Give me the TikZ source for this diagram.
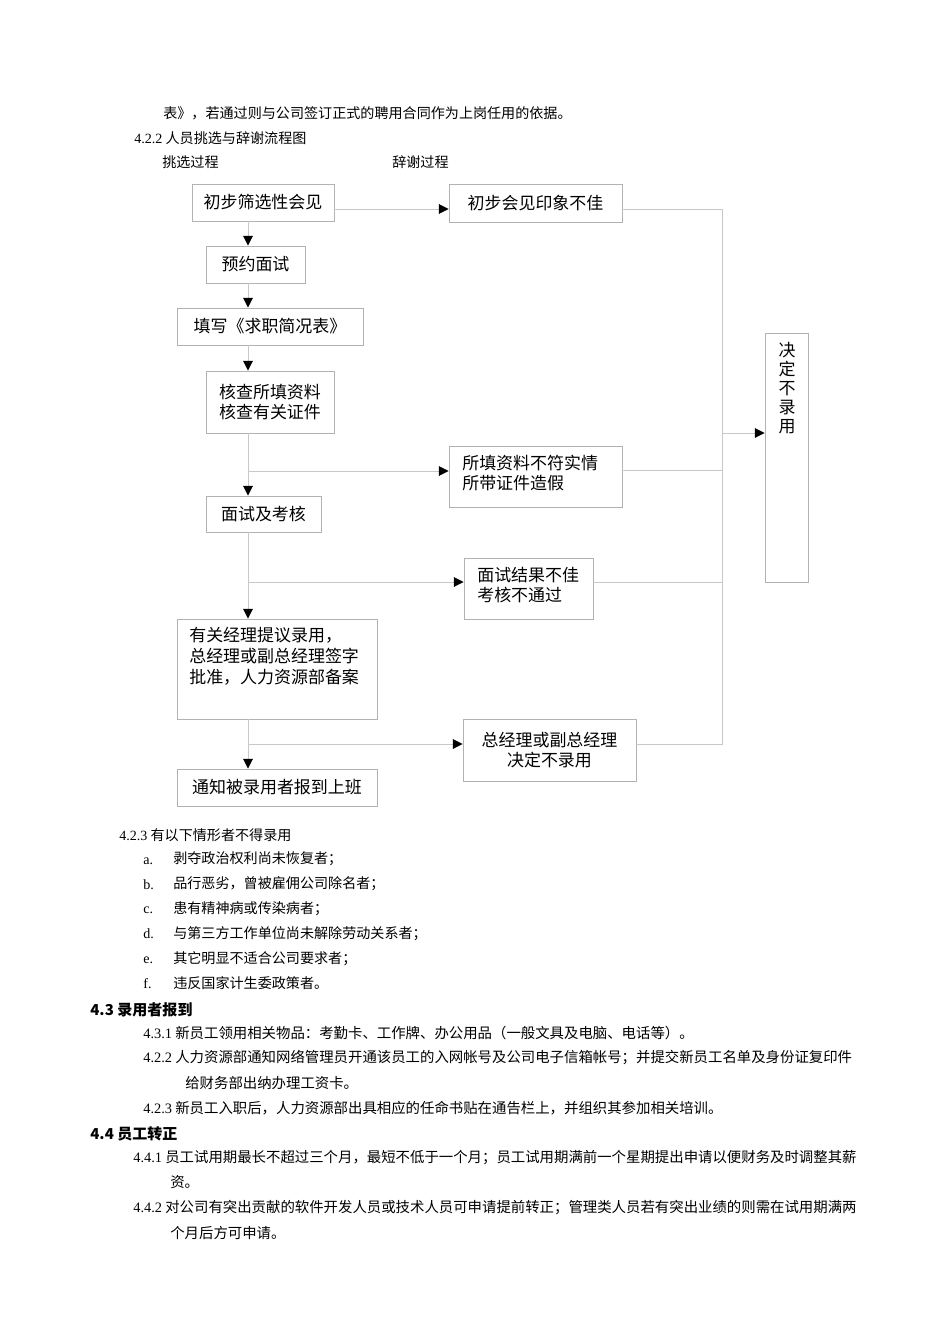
\documentclass[tikz,border=0pt]{standalone}
\usepackage{fontspec}
\newfontfamily\cjk{Noto Sans CJK SC}
\newfontfamily\lat{Liberation Serif}
\usetikzlibrary{arrows.meta}
\definecolor{linegray}{RGB}{200,200,200}
\definecolor{boxgray}{RGB}{178,178,178}

\begin{document}
\begin{tikzpicture}[x=0.625pt,y=-0.625pt,
  box/.style 2 args={draw=boxgray, line width=0.6pt, inner sep=0pt, minimum width=#1*0.625pt, minimum height=#2*0.625pt, align=center, font=\fontsize{10.6}{12.2}\selectfont\cjk},
  boxtext/.style={inner sep=0pt, anchor=north west, align=left, font=\fontsize{10.6}{12.2}\selectfont\cjk},
  line/.style={draw=linegray, line width=0.6pt},
  arr/.style={line, -{Triangle[length=6pt,width=6pt,color=black]}},
  txt/.style={inner sep=0pt, anchor=west, font=\fontsize{8.8}{11}\selectfont\cjk},
  sect/.style={inner sep=0pt, anchor=west, font=\fontsize{9.0}{11}\selectfont\cjk},
  head/.style={inner sep=0pt, anchor=west, font=\fontsize{9.4}{11}\selectfont\cjk\bfseries}]
\fill[white] (0,0) rectangle (950,1344);
\useasboundingbox (0,0) rectangle (950,1344);

% Text Node
\draw (163,113) node[txt] {表》，若通过则与公司签订正式的聘用合同作为上岗任用的依据。};
\draw (134,138) node[txt] {{\lat 4.2.2} 人员挑选与辞谢流程图};
\draw (162,162) node[txt] {挑选过程};
\draw (392,162) node[txt] {辞谢过程};

%selection column
\coordinate (tk) at (248,0);
%Shape: Rectangle
\draw (263,202.5) node[box={142}{37}] (sel) {初步筛选性会见};
\draw (255.5,264.5) node[box={99}{37}] (yue) {预约面试};
\draw (270,326.5) node[box={186}{37}] (tian) {填写《求职简况表》};
\draw (270,402) node[box={128}{62}] (cha) {核查所填资料\\核查有关证件};
\draw (263.5,514) node[box={115}{36}] (mian) {面试及考核};
\draw (277,669) node[box={200}{100}] (jl) {};
% Text Node
\draw (189,627) node[boxtext, font=\fontsize{10.6}{13.1}\selectfont\cjk] {有关经理提议录用，\\总经理或副总经理签字\\批准，人力资源部备案};
\draw (277,787.5) node[box={200}{37}] (tz) {通知被录用者报到上班};

%rejection column
\draw (535.5,203) node[box={173}{38}] (yx) {初步会见印象不佳};
\draw (535.5,476.5) node[box={173}{61}] (zl) {};
\draw (462,455) node[boxtext] {所填资料不符实情\\所带证件造假};
\draw (528.5,588.5) node[box={129}{61}] (jg) {};
\draw (477,567) node[boxtext] {面试结果不佳\\考核不通过};
\draw (549.5,750) node[box={173}{62}] (zjl) {总经理或副总经理\\决定不录用};
\draw (786.5,457.5) node[box={43}{249}] (jd) {};
\draw (787,342) node[inner sep=0pt, anchor=north, align=center, font=\fontsize{10.6}{11.9}\selectfont\cjk] {决\\定\\不\\录\\用};

%Straight Lines
\coordinate (b1) at (248,471);
\coordinate (b2) at (248,582);
\coordinate (b3) at (248,744);
\coordinate (r1) at (722,209);
\coordinate (r2) at (722,470);
\coordinate (r3) at (722,582);
\coordinate (r4) at (722,744);
\coordinate (rj) at (722,433);
\draw[arr] (sel.east |- r1) -- (yx.west |- r1);
\draw[arr] (sel.south -| tk) -- (yue.north -| tk);
\draw[arr] (yue.south -| tk) -- (tian.north -| tk);
\draw[arr] (tian.south -| tk) -- (cha.north -| tk);
\draw[arr] (cha.south -| tk) -- (mian.north -| tk);
\draw[arr] (mian.south -| tk) -- (jl.north -| tk);
\draw[arr] (jl.south -| tk) -- (tz.north -| tk);
\draw[arr] (b1) -- (zl.west |- b1);
\draw[arr] (b2) -- (jg.west |- b2);
\draw[arr] (b3) -- (zjl.west |- b3);
\draw[line] (yx.east |- r1) -- (r1) -- (r4) -- (zjl.east |- r4);
\draw[line] (zl.east |- r2) -- (r2);
\draw[line] (jg.east |- r3) -- (r3);
\draw[arr] (rj) -- (jd.west |- rj);

% Text Node
\draw (119,835) node[txt] {{\lat 4.2.3} 有以下情形者不得录用};
\foreach \l/\t [count=\i] in {a./剥夺政治权利尚未恢复者；, b./品行恶劣，曾被雇佣公司除名者；, c./患有精神病或传染病者；, d./与第三方工作单位尚未解除劳动关系者；, e./其它明显不适合公司要求者；, f./违反国家计生委政策者。}
{
  \draw (143,839.5+24.8*\i) node[txt, anchor=base west] {\lat \l};
  \draw (173,834.2+24.8*\i) node[txt] {\t};
}

\draw (90,1010) node[head] {4.3 录用者报到};
\draw (143,1033) node[sect] {{\lat 4.3.1} 新员工领用相关物品：考勤卡、工作牌、办公用品（一般文具及电脑、电话等）。};
\draw (143,1058) node[sect] {{\lat 4.2.2} 人力资源部通知网络管理员开通该员工的入网帐号及公司电子信箱帐号；并提交新员工名单及身份证复印件};
\draw (185,1083) node[sect] {给财务部出纳办理工资卡。};
\draw (143,1108) node[sect] {{\lat 4.2.3} 新员工入职后，人力资源部出具相应的任命书贴在通告栏上，并组织其参加相关培训。};

\draw (90,1134) node[head] {4.4 员工转正};
\draw (133,1158) node[sect] {{\lat 4.4.1} 员工试用期最长不超过三个月，最短不低于一个月；员工试用期满前一个星期提出申请以便财务及时调整其薪};
\draw (170,1182) node[sect] {资。};
\draw (133,1208) node[sect] {{\lat 4.4.2} 对公司有突出贡献的软件开发人员或技术人员可申请提前转正；管理类人员若有突出业绩的则需在试用期满两};
\draw (170,1233) node[sect] {个月后方可申请。};
\end{tikzpicture}
\end{document}
